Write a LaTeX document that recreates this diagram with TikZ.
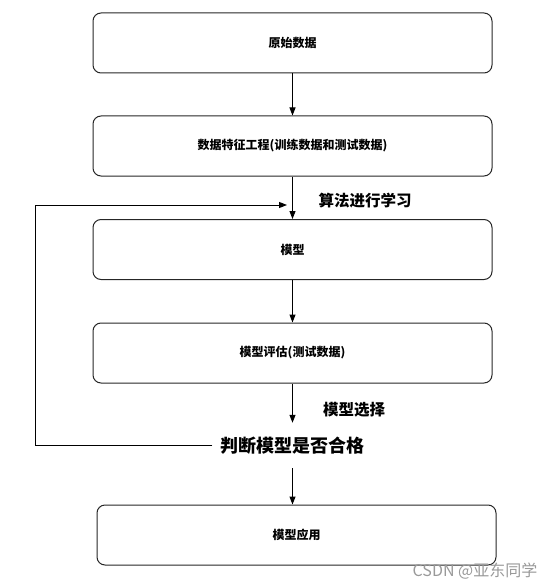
\documentclass[tikz,border=0pt]{standalone}
\usepackage{fontspec}
\newfontfamily\cjk{Noto Sans CJK SC}
\usetikzlibrary{arrows.meta}
\begin{document}
\begin{tikzpicture}[x=1pt,y=-1pt,
  box/.style={draw=black!85,line width=1pt,rounded corners=8pt,minimum width=399pt,minimum height=60pt,inner sep=0pt,font=\cjk\bfseries\fontsize{12}{14}\selectfont},
  arr/.style={line width=1pt,-{Triangle[length=8pt,width=6pt]}},
  lbl/.style={font=\cjk\bfseries\fontsize{15.5}{18}\selectfont,inner sep=0pt}]
\useasboundingbox (0,0) rectangle (558,588);
\node[box] (b1) at (292.5,43) {原始数据};
\node[box] (b2) at (292.5,146) {数据特征工程(训练数据和测试数据)};
\node[box] (b3) at (292.5,249.5) {模型};
\node[box] (b4) at (292.5,353) {模型评估(测试数据)};
\node[box] (b5) at (296.5,535) {模型应用};
\node[font=\cjk\bfseries\fontsize{18}{20}\selectfont,inner xsep=8pt,inner ysep=0pt,minimum height=45pt] (judge) at (292.5,445.5) {判断模型是否合格};
\node[lbl] (l1) at (365,201) {算法进行学习};
\node[lbl] (l2) at (354,409.5) {模型选择};
\coordinate (c1) at (35,205);
\coordinate (c2) at (35,445);
\coordinate (c3) at (287,205);
\draw[arr] (b1) -- (b2);
\draw[arr] (b2) -- (b3);
\draw[arr] (b3) -- (b4);
\draw[arr] (b4) -- (judge);
\draw[arr] (judge.south -| b2) -- (b5.north -| b2);
\draw[arr] (judge.west |- c2) -- (c2) -- (c1) -- (c3);
\node[text=black!40,font=\cjk\fontsize{16}{18}\selectfont,inner sep=0pt] (wm) at (475,571) {CSDN @亚东同学};
\end{tikzpicture}
\end{document}
